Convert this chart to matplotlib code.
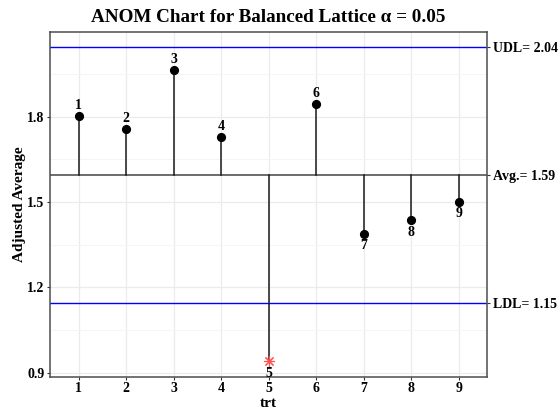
import numpy as np
import matplotlib.pyplot as plt

plt.rcParams['font.family'] = ['Liberation Serif', 'DejaVu Serif']
plt.rcParams['font.weight'] = 'bold'

trt = [1, 2, 3, 4, 5, 6, 7, 8, 9]
adj_avg = [1.803, 1.756, 1.964, 1.728, 0.941, 1.845, 1.389, 1.436, 1.501]
avg = 1.596
udl = 2.044
ldl = 1.146
avg_txt = 'Avg.= 1.59'
udl_txt = 'UDL= 2.04'
ldl_txt = 'LDL= 1.15'


def PLT():
    fig = plt.figure(figsize=(5.6, 4.15), dpi=100)
    ax = fig.add_axes([0.0893, 0.0923, 0.7809, 0.8313])
    ax.set_xlim(0.4, 9.6)
    ax.set_ylim(0.886, 2.099)

    ax.set_yticks([0.9, 1.2, 1.5, 1.8])
    ax.set_yticks([1.05, 1.35, 1.65, 1.95], minor=True)
    ax.set_xticks(trt)
    ax.grid(True, which='major', color='#ebebeb', lw=0.9)
    ax.grid(True, which='minor', axis='y', color='#f4f4f4', lw=0.6)
    ax.set_axisbelow(True)
    for s in ax.spines.values():
        s.set_color('#4d4d4d')
        s.set_linewidth(1.1)
    ax.tick_params(axis='both', which='major', labelsize=10, color='#333333',
                   length=2.5, width=0.8, pad=1.5)
    ax.tick_params(axis='y', which='minor', length=0)

    ax.axhline(udl, color='#0000ff', lw=1.0)
    ax.axhline(ldl, color='#0000ff', lw=1.0)
    ax.axhline(avg, color='#444444', lw=1.1)

    for x, y in zip(trt, adj_avg):
        ax.plot([x, x], [avg, y], color='#1a1a1a', lw=1.1)
        out = y > udl or y < ldl
        if out:
            ax.plot(x, y, marker=(8, 2, 0), color='#ff5050', ms=8, mew=0.8)
        else:
            ax.plot(x, y, 'o', color='black', ms=5.6)
        if y >= avg:
            ax.annotate(str(x), (x, y), xytext=(0, 3), textcoords='offset points',
                        ha='center', va='bottom', fontsize=10, fontweight='bold')
        else:
            ax.annotate(str(x), (x, y), xytext=(0, -4), textcoords='offset points',
                        ha='center', va='top', fontsize=10, fontweight='bold')

    ax2 = ax.twinx()
    ax2.set_ylim(ax.get_ylim())
    ax2.set_yticks([udl, avg, ldl])
    ax2.set_yticklabels([udl_txt, avg_txt, ldl_txt])
    ax2.tick_params(axis='y', labelsize=10, color='#333333', length=2.5, width=0.8, pad=1.5)
    for s in ax2.spines.values():
        s.set_visible(False)

    ax.set_xlabel('trt', fontsize=11, fontweight='bold', labelpad=1)
    ax.set_ylabel('Adjusted Average', fontsize=11, fontweight='bold', labelpad=1)
    ax.set_title('ANOM Chart for Balanced Lattice \u03b1 = 0.05', fontsize=13.8,
                 fontweight='bold', pad=7)

    fig.savefig('out.png', dpi=100)
    plt.close(fig)


if __name__ == '__main__':
    PLT()
